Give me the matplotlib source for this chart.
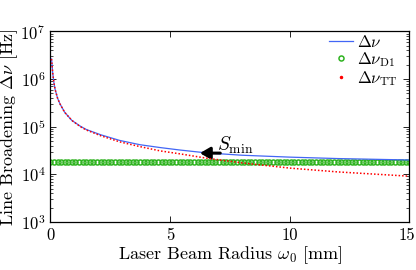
import numpy as np
import matplotlib
matplotlib.use("Agg")
import matplotlib.pyplot as plt
import matplotlib.transforms as mtransforms
from matplotlib.lines import Line2D

plt.rcParams['font.family'] = 'serif'
plt.rcParams['font.serif'] = ['cmr10']
plt.rcParams['mathtext.fontset'] = 'cm'
plt.rcParams['axes.formatter.use_mathtext'] = True

# --- data ---
x_tt = [0.05, 0.1, 0.15, 0.2, 0.3, 0.4, 0.6, 0.9, 1.25, 1.5, 2.1, 2.9, 3.75,
        4.6, 5.4, 6.5, 8.0, 10.0, 12.0, 15.0]
log_tt = [6.42, 6.12, 5.92, 5.78, 5.60, 5.48, 5.30, 5.13, 5.00, 4.93, 4.81,
          4.68, 4.58, 4.49, 4.43, 4.34, 4.24, 4.13, 4.05, 3.96]

x_tot = [0.05, 0.1, 0.15, 0.2, 0.3, 0.4, 0.6, 0.9, 1.25, 1.5, 2.1, 2.9, 3.75,
         4.6, 5.4, 6.5, 8.0, 10.0, 12.0, 15.0]
log_tot = [6.42, 6.12, 5.92, 5.78, 5.60, 5.48, 5.30, 5.13, 5.01, 4.94, 4.83,
           4.71, 4.62, 4.56, 4.51, 4.45, 4.40, 4.36, 4.33, 4.30]

d1_value = 1.8e4
x_d1 = np.linspace(0, 15, 101)
y_d1 = [d1_value] * len(x_d1)

tt = [10 ** v for v in log_tt]
tot = [10 ** v for v in log_tot]

smin_xy = (6.25, 2.78e4)
smin_tail = (7.1, 2.78e4)
smin_text_xy = (6.95, 3.15e4)

xticks = [0, 5, 10, 15]
labels = [r'$\Delta\nu$', r'$\Delta\nu_{\mathrm{D1}}$', r'$\Delta\nu_{\mathrm{TT}}$']

blue = '#4266f5'
green = '#2eb31f'

fig = plt.figure(figsize=(4.16, 2.70), dpi=100)
ax = fig.add_axes([0.121, 0.178, 0.863, 0.706])

ax.plot(x_tot, tot, color=blue, lw=0.9, zorder=3)
ax.plot(x_d1, y_d1, ls='none', marker='o', ms=3.6, mfc='none', mec=green,
        mew=1.1, zorder=2)
ax.plot(x_tt, tt, color='red', ls=(0, (1, 1.3)), lw=1.1, zorder=4)

ax.set_yscale('log')
ax.set_xlim(0, 15)
ax.set_ylim(1e3, 1e7)
ax.set_xticks(xticks)
ax.set_xticklabels([str(t) for t in xticks])

ax.tick_params(which='both', direction='in', top=True, right=True, labelsize=12)
ax.tick_params(which='major', length=4, width=0.6)
ax.tick_params(which='minor', length=2, width=0.5)
ax.tick_params(axis='x', pad=4)
for s in ax.spines.values():
    s.set_linewidth(0.9)

# nudge the last x tick label slightly inward so it is not clipped
last = ax.get_xticklabels()[-1]
last.set_transform(last.get_transform() +
                   mtransforms.ScaledTranslation(-2 / 100, 0, fig.dpi_scale_trans))

ax.set_xlabel(r'Laser Beam Radius $\omega_0$ [mm]', fontsize=13, labelpad=1)
ax.set_ylabel(r'Line Broadening $\Delta\nu$ [Hz]', fontsize=13, labelpad=0)

ax.annotate('', xy=smin_xy, xytext=smin_tail,
            arrowprops=dict(arrowstyle='-|>,head_width=0.35,head_length=0.6',
                            color='black', lw=2.2, shrinkA=0, shrinkB=0))
ax.text(smin_text_xy[0], smin_text_xy[1], r'$S_{\mathrm{min}}$', fontsize=14,
        ha='left', va='baseline')

handles = [
    Line2D([], [], color=blue, lw=0.9),
    Line2D([], [], ls='none', marker='o', ms=3.6, mfc='none', mec=green, mew=1.1),
    Line2D([], [], ls='none', marker='.', ms=3, color='red'),
]
leg = ax.legend(handles, labels, loc='upper right', frameon=False, fontsize=12,
                handlelength=1.4, handletextpad=0.25, labelspacing=0.0,
                borderaxespad=0.0, bbox_to_anchor=(0.985, 1.02))

fig.savefig('out.png', dpi=100)
